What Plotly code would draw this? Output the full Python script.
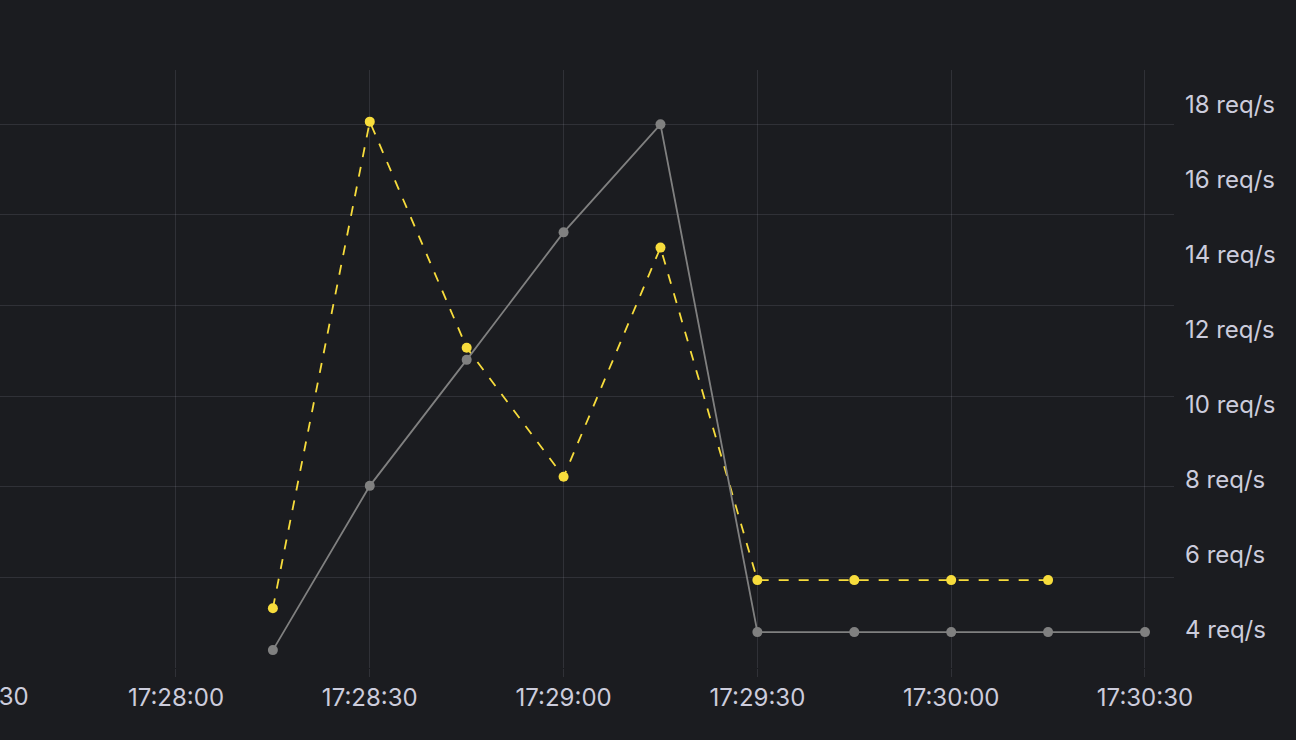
import plotly.graph_objects as go

# ---- data ----
times = ["2024-01-01 17:28:15", "2024-01-01 17:28:30", "2024-01-01 17:28:45",
         "2024-01-01 17:29:00", "2024-01-01 17:29:15", "2024-01-01 17:29:30",
         "2024-01-01 17:29:45", "2024-01-01 17:30:00", "2024-01-01 17:30:15",
         "2024-01-01 17:30:30"]
gray_values = [3.45, 7.83, 11.19, 14.59, 17.47, 3.93, 3.93, 3.93, 3.93, 3.93]   # right axis, req/s
yellow_times = times[:9]
yellow_values = [1.32, 12.06, 7.07, 4.22, 9.28, 1.94, 1.94, 1.94, 1.94]          # left axis, req/s
right_ticks = [4, 6, 8, 10, 12, 14, 16, 18]
right_tick_text = ["4 req/s", "6 req/s", "8 req/s", "10 req/s", "12 req/s",
                   "14 req/s", "16 req/s", "18 req/s"]
x_ticks = ["2024-01-01 17:28:00", "2024-01-01 17:28:30", "2024-01-01 17:29:00",
           "2024-01-01 17:29:30", "2024-01-01 17:30:00", "2024-01-01 17:30:30"]
x_tick_text = ["17:28:00", "17:28:30", "17:29:00", "17:29:30", "17:30:00", "17:30:30"]

BG = "#1b1c20"
GRID = "rgba(204,204,220,0.12)"
TEXT = "#ccccdc"
FONT = "Inter"
FS = 24

fig = go.Figure()
fig.add_trace(go.Scatter(
    x=yellow_times, y=yellow_values, mode="lines+markers", yaxis="y",
    line=dict(color="#f7dc3c", width=1.8, dash="10px,10px"),
    marker=dict(color="#f7dc3c", size=10),
    showlegend=False, name="yellow"))
fig.add_trace(go.Scatter(
    x=times, y=gray_values, mode="lines+markers", yaxis="y2",
    line=dict(color="#808080", width=1.8),
    marker=dict(color="#808080", size=10),
    showlegend=False, name="gray"))

fig.update_layout(
    width=1296, height=740,
    margin=dict(l=0, r=122, t=70, b=72),
    paper_bgcolor=BG, plot_bgcolor=BG,
    font=dict(family=FONT, size=FS, color=TEXT),
    xaxis=dict(
        type="date",
        range=["2024-01-01 17:27:32.76", "2024-01-01 17:30:34.49"],
        tickvals=x_ticks, ticktext=x_tick_text,
        showgrid=True, gridcolor=GRID, gridwidth=1,
        ticks="outside", ticklen=8, tickcolor=GRID, tickwidth=1,
        showline=False, zeroline=False,
        tickfont=dict(family=FONT, size=FS, color=TEXT),
    ),
    yaxis=dict(
        range=[0, 13.2], dtick=2, tick0=0,
        showgrid=True, gridcolor=GRID, gridwidth=1,
        showticklabels=False, ticks="", zeroline=False, showline=False,
    ),
    yaxis2=dict(
        overlaying="y", side="right",
        range=[2.973, 18.92],
        tickvals=right_ticks, ticktext=right_tick_text,
        showgrid=False, zeroline=False, showline=False, ticks="",
        ticklabelstandoff=10,
        tickfont=dict(family=FONT, size=FS, color=TEXT),
    ),
    annotations=[dict(
        text="17:27:30", xref="paper", yref="paper",
        x=-18 / 1174, y=0, yshift=-28, xanchor="center", yanchor="middle",
        showarrow=False, font=dict(family=FONT, size=FS, color=TEXT))],
)

fig.write_html(
    "out.html",
    config={"displayModeBar": False},
    post_script="document.body.style.margin='0';document.body.style.background='%s';" % BG,
)
